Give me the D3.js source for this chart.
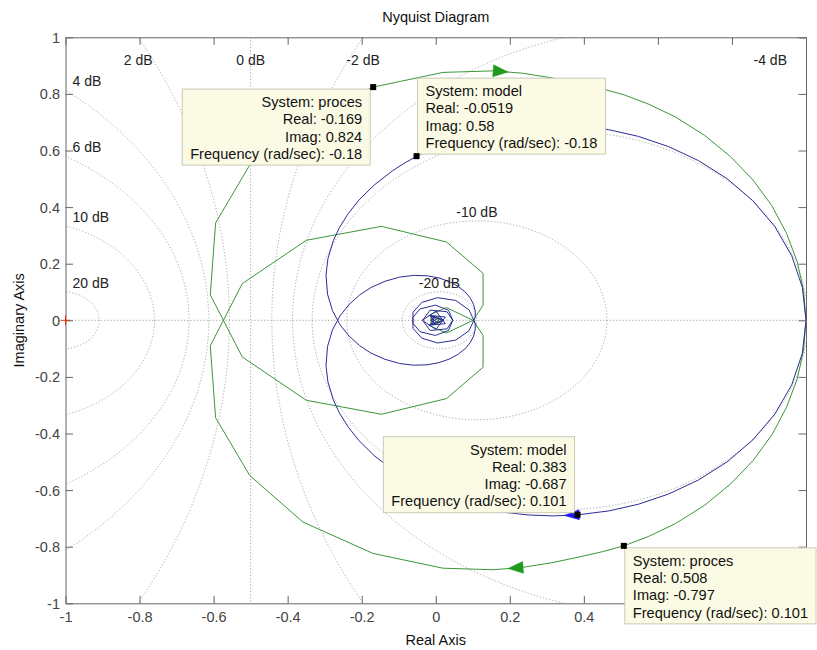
<!DOCTYPE html>
<html>
<head>
<meta charset="utf-8">
<script src="https://cdn.jsdelivr.net/npm/d3@7"></script>
<style>
  body { margin: 0; background: #fff; }
  svg { display: block; font-family: Arial, "Liberation Sans", sans-serif; }
</style>
</head>
<body>
<svg id="chart" width="817" height="650"></svg>
<script>
// Axis ticks
const xTicks = [-1, -0.8, -0.6, -0.4, -0.2, 0, 0.2, 0.4, 0.6, 0.8, 1];
const yTicks = [-1, -0.8, -0.6, -0.4, -0.2, 0, 0.2, 0.4, 0.6, 0.8, 1];

// Closed-loop magnitude contours (M-circles), in dB
const gridDb = [-20, -10, -6, -4, -2, 0, 2, 4, 6, 10, 20];

// "model" frequency response, positive frequencies (real / imaginary parts)
const modelRe = [1.0000, 0.9902, 0.9615, 0.9159, 0.8564, 0.7864, 0.7095, 0.6289, 0.5473, 0.4674,
  0.3834, 0.3174, 0.2498, 0.1871, 0.1295, 0.0770, 0.0295, -0.0127, -0.0509, -0.0854,
  -0.1159, -0.1672, -0.2072, -0.2374, -0.2602, -0.2766, -0.2912, -0.2964, -0.2923, -0.2790,
  -0.2589, -0.2339, -0.2057, -0.1752, -0.1371, -0.0972, -0.0591, -0.0237, 0.0085, 0.0367,
  0.0605, 0.0796, 0.0937, 0.1024, 0.1067, 0.1064, 0.0898, 0.0541, 0.0048, -0.0376,
  -0.0613, -0.0619, -0.0425, -0.0012, 0.0344, 0.0460, 0.0305, -0.0151, -0.0358, 0.0006,
  0.0261, -0.0189, 0.0215, -0.0120, -0.0014, -0.0128, -0.0080, 0.0016];
const modelIm = [0, -0.1162, -0.2280, -0.3311, -0.4228, -0.5008, -0.5643, -0.6138, -0.6499, -0.6736,
  -0.6874, -0.6912, -0.6879, -0.6787, -0.6647, -0.6471, -0.6266, -0.6040, -0.5799, -0.5548,
  -0.5291, -0.4770, -0.4253, -0.3753, -0.3272, -0.2816, -0.2179, -0.1603, -0.0926, -0.0343,
  0.0152, 0.0561, 0.0894, 0.1157, 0.1379, 0.1528, 0.1587, 0.1573, 0.1497, 0.1369,
  0.1200, 0.1000, 0.0778, 0.0552, 0.0319, 0.0097, -0.0370, -0.0700, -0.0801, -0.0631,
  -0.0286, 0.0100, 0.0401, 0.0536, 0.0356, 0.0004, -0.0302, -0.0360, 0.0004, 0.0322,
  -0.0117, -0.0175, -0.0012, 0.0139, -0.0160, 0.0015, -0.0058, 0.0062];

// "proces" frequency response, positive frequencies
const procesRe = [1.0000, 0.9935, 0.9762, 0.9473, 0.9081, 0.8574, 0.7961, 0.7261, 0.6471, 0.5753,
  0.5080, 0.4528, 0.3897, 0.3119, 0.2340, 0.1554, 0.0197, -0.1690, -0.3586, -0.5027,
  -0.5946, -0.6090, -0.5225, -0.3495, -0.1468, 0.0289, 0.1278, 0.1278, 0.1008, 0.0289,
  -0.0150, -0.0100, 0.0120, 0.0040, 0];
const procesIm = [0, -0.1044, -0.2075, -0.3078, -0.4043, -0.4950, -0.5784, -0.6537, -0.7186, -0.7635,
  -0.7970, -0.8169, -0.8356, -0.8570, -0.8732, -0.8814, -0.8760, -0.8240, -0.7130, -0.5480,
  -0.3440, -0.0900, 0.1297, 0.2827, 0.3320, 0.2767, 0.1660, 0.0530, 0, -0.0449,
  -0.0200, 0.0150, 0.0080, -0.0060, 0];

// Data tips
const tipSystem = ["proces", "model", "model", "proces"];
const tipRe = [-0.169, -0.0519, 0.383, 0.508];
const tipIm = [0.824, 0.58, -0.687, -0.797];
const tipFreq = [-0.18, -0.18, 0.101, 0.101];

// ---------------------------------------------------------------
(function draw() {
const svg = d3.select("#chart");
const pLeft = 65.5, pRight = 806, pTop = 37.3, pBottom = 603.3;
const x = d3.scaleLinear().domain([-1, 1]).range([pLeft, pRight]);
const y = d3.scaleLinear().domain([-1, 1]).range([pBottom, pTop]);
const kx = (pRight - pLeft) / 2, ky = (pBottom - pTop) / 2;

svg.append("rect").attr("width", 817).attr("height", 650).attr("fill", "#fff");

svg.append("defs").append("clipPath").attr("id", "plotClip")
  .append("rect").attr("x", pLeft).attr("y", pTop)
  .attr("width", pRight - pLeft).attr("height", pBottom - pTop);

const plot = svg.append("g").attr("clip-path", "url(#plotClip)");
const gridStyle = s => s.attr("fill", "none").attr("stroke", "#a4a4a4")
  .attr("stroke-width", 1).attr("stroke-dasharray", "1.2,2");

// real axis line
plot.append("line").attr("x1", pLeft).attr("x2", pRight)
  .attr("y1", y(0)).attr("y2", y(0)).call(gridStyle);

// M-circles
const labelLayer = svg.append("g").attr("font-size", "14px").attr("fill", "#222");
gridDb.forEach(db => {
  const text = db + " dB";
  if (db === 0) {
    plot.append("line").attr("x1", x(-0.5)).attr("x2", x(-0.5))
      .attr("y1", pTop).attr("y2", pBottom).call(gridStyle);
    labelLayer.append("text").attr("x", x(-0.5)).attr("y", pTop + 23)
      .attr("text-anchor", "middle").attr("dominant-baseline", "central").text(text);
    return;
  }
  const M = Math.pow(10, db / 20), M2 = M * M;
  const cx = -M2 / (M2 - 1), r = Math.abs(M / (M2 - 1));
  plot.append("ellipse").attr("cx", x(cx)).attr("cy", y(0))
    .attr("rx", r * kx).attr("ry", r * ky).call(gridStyle);

  const edgeDy = Math.sqrt(Math.max(0, r * r - (-1 - cx) * (-1 - cx)));
  if (db < 0 && r < 1) {
    labelLayer.append("text").attr("x", x(cx)).attr("y", y(r) - 9)
      .attr("text-anchor", "middle").attr("dominant-baseline", "central").text(text);
  } else if (db > 0 && r > Math.abs(-1 - cx) && edgeDy < 1) {
    labelLayer.append("text").attr("x", pLeft + 7).attr("y", y(edgeDy) - 9)
      .attr("text-anchor", "start").attr("dominant-baseline", "central").text(text);
  } else {
    const h = Math.sqrt(r * r - 1);
    const xs = [cx - h, cx + h].filter(v => v >= -1 && v <= 1);
    const xv = d3.max(xs);
    const t = labelLayer.append("text").attr("y", pTop + 23)
      .attr("text-anchor", "middle").attr("dominant-baseline", "central").text(text);
    const w = t.node().getComputedTextLength();
    t.attr("x", Math.min(x(xv), pRight - 19 - w / 2));
  }
});

// Nyquist curves: positive frequencies and their mirror image
const line = d3.line().x(d => x(d[0])).y(d => y(d[1]));
function drawSystem(re, im, color) {
  const pos = re.map((v, i) => [v, im[i]]);
  const neg = re.map((v, i) => [v, -im[i]]);
  [neg, pos].forEach(pts => plot.append("path").attr("d", line(pts))
    .attr("fill", "none").attr("stroke", color).attr("stroke-width", 1)
    .attr("stroke-linejoin", "round"));
}
drawSystem(procesRe, procesIm, "#3a963a");
drawSystem(modelRe, modelIm, "#2c2c98");

// direction arrows sitting on segment k of the positive branch, at fraction f
function drawArrows(re, im, k, f, color, halfW) {
  const tx = re[k] + f * (re[k + 1] - re[k]);
  const ty = im[k] + f * (im[k + 1] - im[k]);
  [[1, 1], [-1, -1]].forEach(([sy, dir]) => {
    const px = x(tx), py = y(sy * ty);
    const dx = (x(re[k + 1]) - x(re[k])) * dir;
    const dy = (y(sy * im[k + 1]) - y(sy * im[k])) * dir;
    const a = Math.atan2(dy, dx);
    const L = 15;
    const bx = px - L * Math.cos(a), by = py - L * Math.sin(a);
    const nx = -Math.sin(a) * halfW, ny = Math.cos(a) * halfW;
    plot.append("path")
      .attr("d", `M${px},${py}L${bx + nx},${by + ny}L${bx - nx},${by - ny}Z`)
      .attr("fill", color).attr("stroke", color).attr("stroke-width", 0.5);
  });
}
drawArrows(procesRe, procesIm, 14, 0.49, "#1f9a1f", 6);
drawArrows(modelRe, modelIm, 10, 0.55, "#1a1af0", 5);

// Axes box with inward ticks
const axisColor = "#666";
function styleAxis(g) {
  g.select(".domain").attr("stroke", axisColor);
  g.selectAll(".tick line").attr("stroke", axisColor);
  g.selectAll(".tick text").attr("fill", "#444").attr("font-size", "14.5px")
    .attr("font-family", "Arial, 'Liberation Sans', sans-serif");
}
const fmt = v => String(+v.toFixed(2));
const xAxisG = svg.append("g").attr("transform", `translate(0,${pBottom})`)
  .call(d3.axisBottom(x).tickValues(xTicks).tickFormat(fmt).tickSize(-7.5).tickSizeOuter(0))
  .call(styleAxis)
  .call(g => g.selectAll(".tick text").attr("y", 13.4).attr("dy", "0.35em"));
svg.append("g").attr("transform", `translate(${pLeft},0)`)
  .call(d3.axisLeft(y).tickValues(yTicks).tickFormat(fmt).tickSize(-7.5).tickSizeOuter(0))
  .call(styleAxis)
  .call(g => g.selectAll(".tick text").attr("x", -5.5).attr("dy", "0.35em"));
svg.append("g").attr("transform", `translate(0,${pTop})`)
  .call(d3.axisTop(x).tickValues(xTicks).tickFormat("").tickSize(-7.5).tickSizeOuter(0))
  .call(styleAxis);
svg.append("g").attr("transform", `translate(${pRight},0)`)
  .call(d3.axisRight(y).tickValues(yTicks).tickFormat("").tickSize(-7.5).tickSizeOuter(0))
  .call(styleAxis);

// critical point -1 + 0j
svg.append("path")
  .attr("d", `M${x(-1) - 5},${y(0)}h10M${x(-1)},${y(0) - 5}v10`)
  .attr("stroke", "#e03010").attr("stroke-width", 1);

// Titles
svg.append("text").attr("x", (pLeft + pRight) / 2).attr("y", 17)
  .attr("text-anchor", "middle").attr("dominant-baseline", "central")
  .attr("font-size", "14.5px").attr("fill", "#111").text("Nyquist Diagram");
svg.append("text").attr("x", (pLeft + pRight) / 2).attr("y", 640)
  .attr("text-anchor", "middle").attr("dominant-baseline", "central")
  .attr("font-size", "14.5px").attr("fill", "#111").text("Real Axis");
svg.append("text").attr("transform", `translate(19,${(pTop + pBottom) / 2}) rotate(-90)`)
  .attr("text-anchor", "middle").attr("dominant-baseline", "central")
  .attr("font-size", "14.5px").attr("fill", "#111").text("Imaginary Axis");

// Data tips: marker plus annotation box
const tipPlacement = ["lowerLeft", "upperRight", "upperLeft", "lowerRight"];
const tipLayer = svg.append("g");
const boxes = [];
tipSystem.forEach((sys, i) => {
  const mx = x(tipRe[i]), my = y(tipIm[i]);
  const lines = [
    "System: " + sys,
    "Real: " + tipRe[i],
    "Imag: " + tipIm[i],
    "Frequency (rad/sec): " + tipFreq[i]
  ];
  const g = tipLayer.append("g");
  const rect = g.append("rect").attr("fill", "#fbfbe5").attr("stroke", "#c9c9b6")
    .attr("stroke-width", 1);
  const texts = lines.map(s => g.append("text").attr("font-size", "14.6px")
    .attr("fill", "#111").attr("dominant-baseline", "central").text(s));
  const w = d3.max(texts, t => t.node().getComputedTextLength());
  const pad = 8, bw = w + 2 * pad, bh = 76;
  const place = tipPlacement[i];
  const onLeft = place.endsWith("Left");
  const bx = onLeft ? mx - 3 - bw : mx + 1;
  const by = place.startsWith("lower") ? my + 2 : my - 2 - bh;
  rect.attr("x", bx).attr("y", by).attr("width", bw).attr("height", bh);
  boxes.push({ x0: bx, x1: bx + bw, y0: by, y1: by + bh });
  texts.forEach((t, j) => t.attr("x", onLeft ? bx + bw - pad : bx + pad)
    .attr("y", by + 12.8 + j * 17.3)
    .attr("text-anchor", onLeft ? "end" : "start"));
  svg.append("rect").attr("x", mx - 3).attr("y", my - 3)
    .attr("width", 6).attr("height", 6).attr("fill", "#000");
});

// tick labels that sit underneath a data-tip box are covered by it
xAxisG.selectAll(".tick").each(function (v) {
  const cxp = x(v), cyp = pBottom + 13.4;
  const covered = boxes.some(b => cxp + 8 > b.x0 && cxp - 8 < b.x1 && cyp > b.y0 && cyp < b.y1);
  if (covered) d3.select(this).select("text").remove();
});
})();
</script>
</body>
</html>
